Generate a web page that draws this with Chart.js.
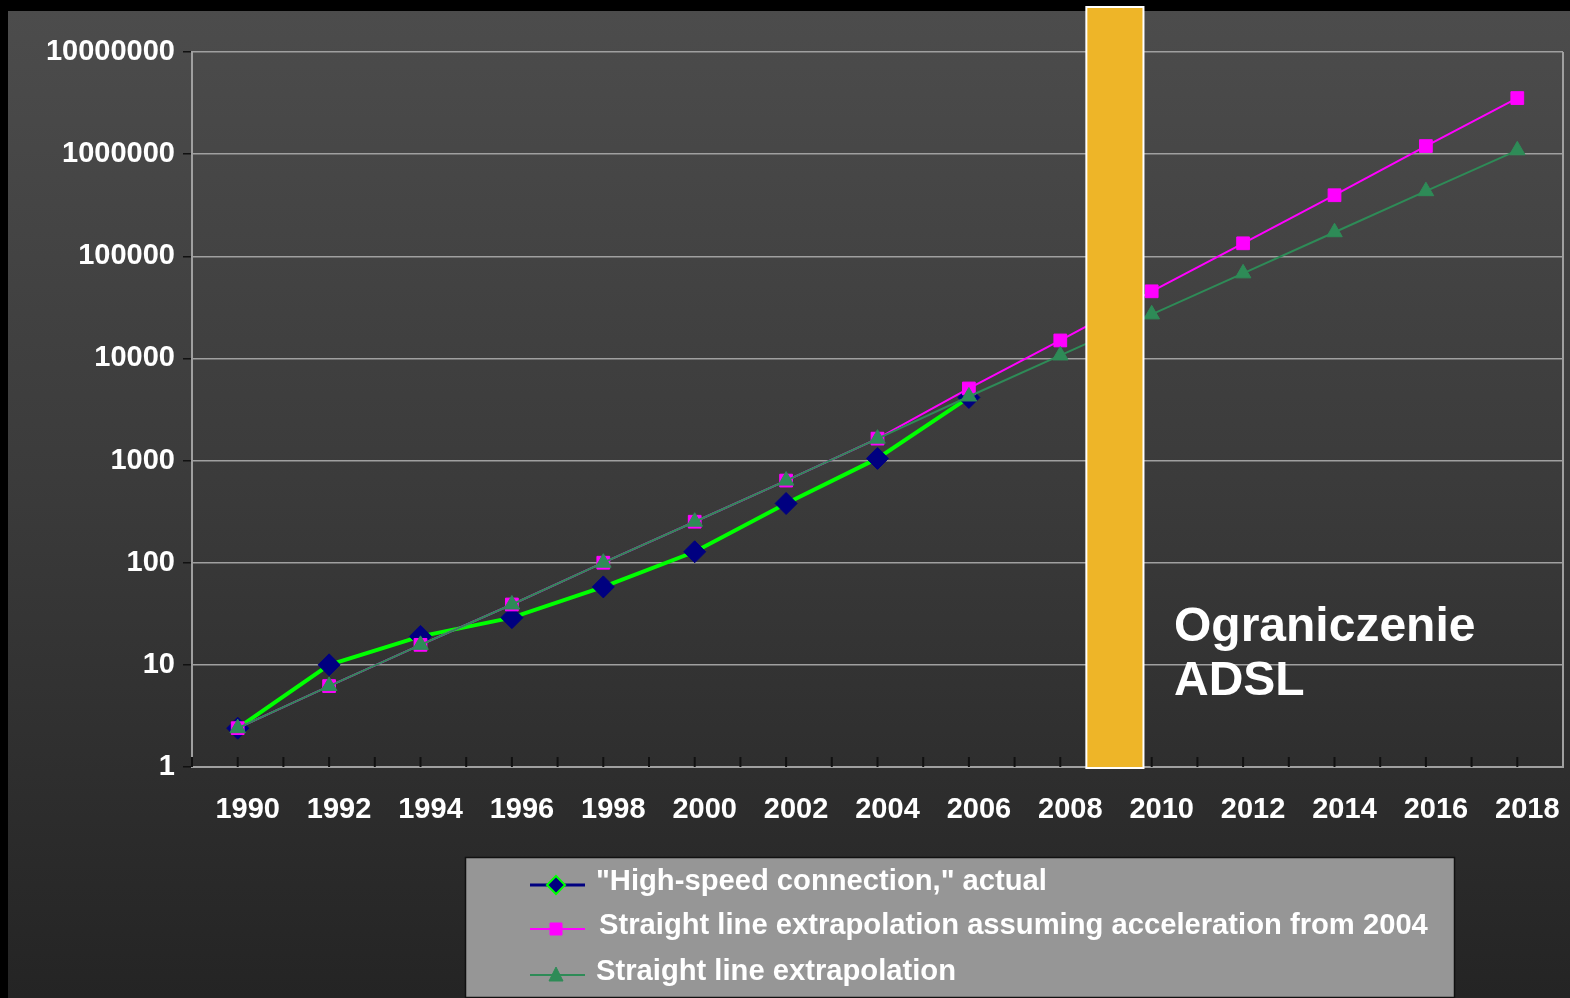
<!DOCTYPE html>
<html>
<head>
<meta charset="utf-8">
<script src="https://cdn.jsdelivr.net/npm/chart.js@4.4.0/dist/chart.umd.min.js"></script>
<style>
  html, body { margin: 0; padding: 0; background: #000; overflow: hidden; }
  #slide { position: absolute; left: 8px; top: 11px; width: 1562px; height: 987px;
    background: linear-gradient(to bottom, #4c4c4c 0%, #3a3a3a 50%, #242424 100%); }
  #wrap { position: absolute; left: 0; top: 0; width: 1570px; height: 998px; }
</style>
</head>
<body>
<div id="slide"></div>
<div id="wrap"><canvas id="chart"></canvas></div>
<script>
// data
const years = [1990, 1992, 1994, 1996, 1998, 2000, 2002, 2004, 2006, 2008, 2010, 2012, 2014, 2016, 2018];
const actual = [2.4, 10, 19, 29, 58, 128, 380, 1050, 4150];
const accelerated = [2.4, 6.2, 15.7, 39, 100, 252, 637, 1640, 5080, 15000, 45400, 134000, 396000, 1200000, 3540000];
const straight = [2.4, 6.2, 15.7, 39, 100, 252, 637, 1640, 4240, 10700, 27000, 68100, 172000, 434000, 1090000];
const yTicks = [1, 10, 100, 1000, 10000, 100000, 1000000, 10000000];
const seriesNames = [
  '"High-speed connection," actual',
  'Straight line extrapolation assuming acceleration from 2004',
  'Straight line extrapolation'
];
const adslYears = [2008.57, 2009.82];
const adslText = ['Ograniczenie', 'ADSL'];

const FONT = '"Liberation Sans", Arial, sans-serif';

const toPoints = vals => vals.map((v, i) => ({ x: years[i], y: v }));

// inner tick marks on the x axis + right frame line
const frame = {
  id: 'frame',
  beforeDatasetsDraw(chart) {
    const { ctx, chartArea: a, scales: { x } } = chart;
    ctx.save();
    ctx.strokeStyle = '#111';
    ctx.lineWidth = 2;
    x.ticks.forEach(t => {
      const px = x.getPixelForValue(t.value);
      ctx.beginPath();
      ctx.moveTo(px, a.bottom);
      ctx.lineTo(px, a.bottom - 10);
      ctx.stroke();
    });
    ctx.strokeStyle = '#a0a0a0';
    ctx.beginPath();
    ctx.moveTo(a.right, a.top);
    ctx.lineTo(a.right, a.bottom);
    ctx.stroke();
    ctx.restore();
  }
};

// orange "ADSL limit" band and its caption
const adsl = {
  id: 'adsl',
  afterDatasetsDraw(chart) {
    const { ctx, chartArea: a, scales: { x } } = chart;
    const x0 = x.getPixelForValue(adslYears[0]);
    const x1 = x.getPixelForValue(adslYears[1]);
    const top = 7, bottom = a.bottom + 1;
    ctx.save();
    ctx.fillStyle = '#eeb528';
    ctx.fillRect(x0, top, x1 - x0, bottom - top);
    ctx.strokeStyle = '#fff';
    ctx.lineWidth = 2;
    ctx.strokeRect(x0, top, x1 - x0, bottom - top);
    ctx.fillStyle = '#fff';
    ctx.font = 'bold 48px ' + FONT;
    ctx.textBaseline = 'alphabetic';
    ctx.fillText(adslText[0], 1174, 641);
    ctx.fillText(adslText[1], 1174, 695);
    ctx.restore();
  }
};

// legend box like the original slide
const legendBox = {
  id: 'legendBox',
  afterDraw(chart) {
    const { ctx } = chart;
    const rows = [885, 929, 975];
    const textX = [596, 599, 596];
    ctx.save();
    ctx.fillStyle = '#969696';
    ctx.fillRect(465, 857, 990, 140);
    ctx.strokeStyle = '#111';
    ctx.lineWidth = 1.5;
    ctx.strokeRect(465.5, 857.5, 989, 140);
    chart.data.datasets.forEach((ds, i) => {
      const y = rows[i];
      ctx.strokeStyle = i === 0 ? '#000080' : ds.borderColor;
      ctx.lineWidth = i === 0 ? 3 : 2;
      ctx.beginPath();
      ctx.moveTo(530, y);
      ctx.lineTo(585, y);
      ctx.stroke();
      ctx.fillStyle = ds.pointBackgroundColor;
      ctx.strokeStyle = i === 0 ? '#00ff00' : ds.pointBorderColor;
      ctx.lineWidth = i === 0 ? 2 : 1;
      ctx.beginPath();
      if (i === 0) {
        ctx.moveTo(556, y - 9); ctx.lineTo(565, y); ctx.lineTo(556, y + 9); ctx.lineTo(547, y); ctx.closePath();
      } else if (i === 1) {
        ctx.rect(550, y - 6, 12, 12);
      } else {
        ctx.moveTo(556, y - 8); ctx.lineTo(563, y + 6); ctx.lineTo(549, y + 6); ctx.closePath();
      }
      ctx.fill();
      ctx.stroke();
      ctx.fillStyle = '#fff';
      ctx.font = 'bold 29.2px ' + FONT;
      ctx.textBaseline = 'middle';
      ctx.fillText(ds.label, textX[i], y - 3);
    });
    ctx.restore();
  }
};

new Chart(document.getElementById('chart'), {
  type: 'line',
  data: {
    datasets: [
      {
        label: seriesNames[0],
        data: toPoints(actual),
        borderColor: '#00ff00',
        borderWidth: 4,
        pointStyle: 'rectRot',
        pointRadius: 11,
        pointBackgroundColor: '#000080',
        pointBorderColor: '#000080',
        pointBorderWidth: 1,
        order: 3
      },
      {
        label: seriesNames[1],
        data: toPoints(accelerated),
        borderColor: '#ff00ff',
        borderWidth: 2,
        pointStyle: 'rect',
        pointRadius: 9,
        pointBackgroundColor: '#ff00ff',
        pointBorderColor: '#ff00ff',
        pointBorderWidth: 1,
        order: 2
      },
      {
        label: seriesNames[2],
        data: toPoints(straight),
        borderColor: '#2e8b57',
        borderWidth: 2,
        pointStyle: 'triangle',
        pointRadius: 9,
        pointBackgroundColor: '#2e8b57',
        pointBorderColor: '#2e8b57',
        pointBorderWidth: 1,
        order: 1
      }
    ]
  },
  options: {
    responsive: true,
    maintainAspectRatio: false,
    animation: false,
    devicePixelRatio: 1,
    layout: { autoPadding: false, padding: { top: 52, right: 7, left: 0, bottom: 0 } },
    elements: { line: { tension: 0 } },
    plugins: { legend: { display: false }, tooltip: { enabled: false } },
    scales: {
      x: {
        type: 'linear',
        min: 1989,
        max: 2019,
        afterFit: s => { s.height = 231; s.paddingLeft = 0; s.paddingRight = 0; },
        ticks: {
          stepSize: 1,
          autoSkip: false,
          maxRotation: 0,
          color: '#fff',
          font: { family: FONT, size: 29, weight: 'bold' },
          padding: 26,
          labelOffset: 10,
          callback: v => years.includes(v) ? String(v) : ''
        },
        grid: { drawOnChartArea: false, drawTicks: false },
        border: { color: '#a0a0a0', width: 2 }
      },
      y: {
        type: 'logarithmic',
        min: 1,
        max: 10000000,
        afterFit: s => { s.width = 192; s.paddingTop = 0; s.paddingBottom = 0; },
        afterBuildTicks: s => { s.ticks = yTicks.map(v => ({ value: v })); },
        ticks: {
          color: '#fff',
          font: { family: FONT, size: 29, weight: 'bold' },
          padding: 8,
          callback: v => String(v)
        },
        grid: { color: '#a0a0a0', lineWidth: 1.5, tickColor: '#111', tickLength: 9 },
        border: { color: '#a0a0a0', width: 2 }
      }
    }
  },
  plugins: [frame, adsl, legendBox]
});
</script>
</body>
</html>
